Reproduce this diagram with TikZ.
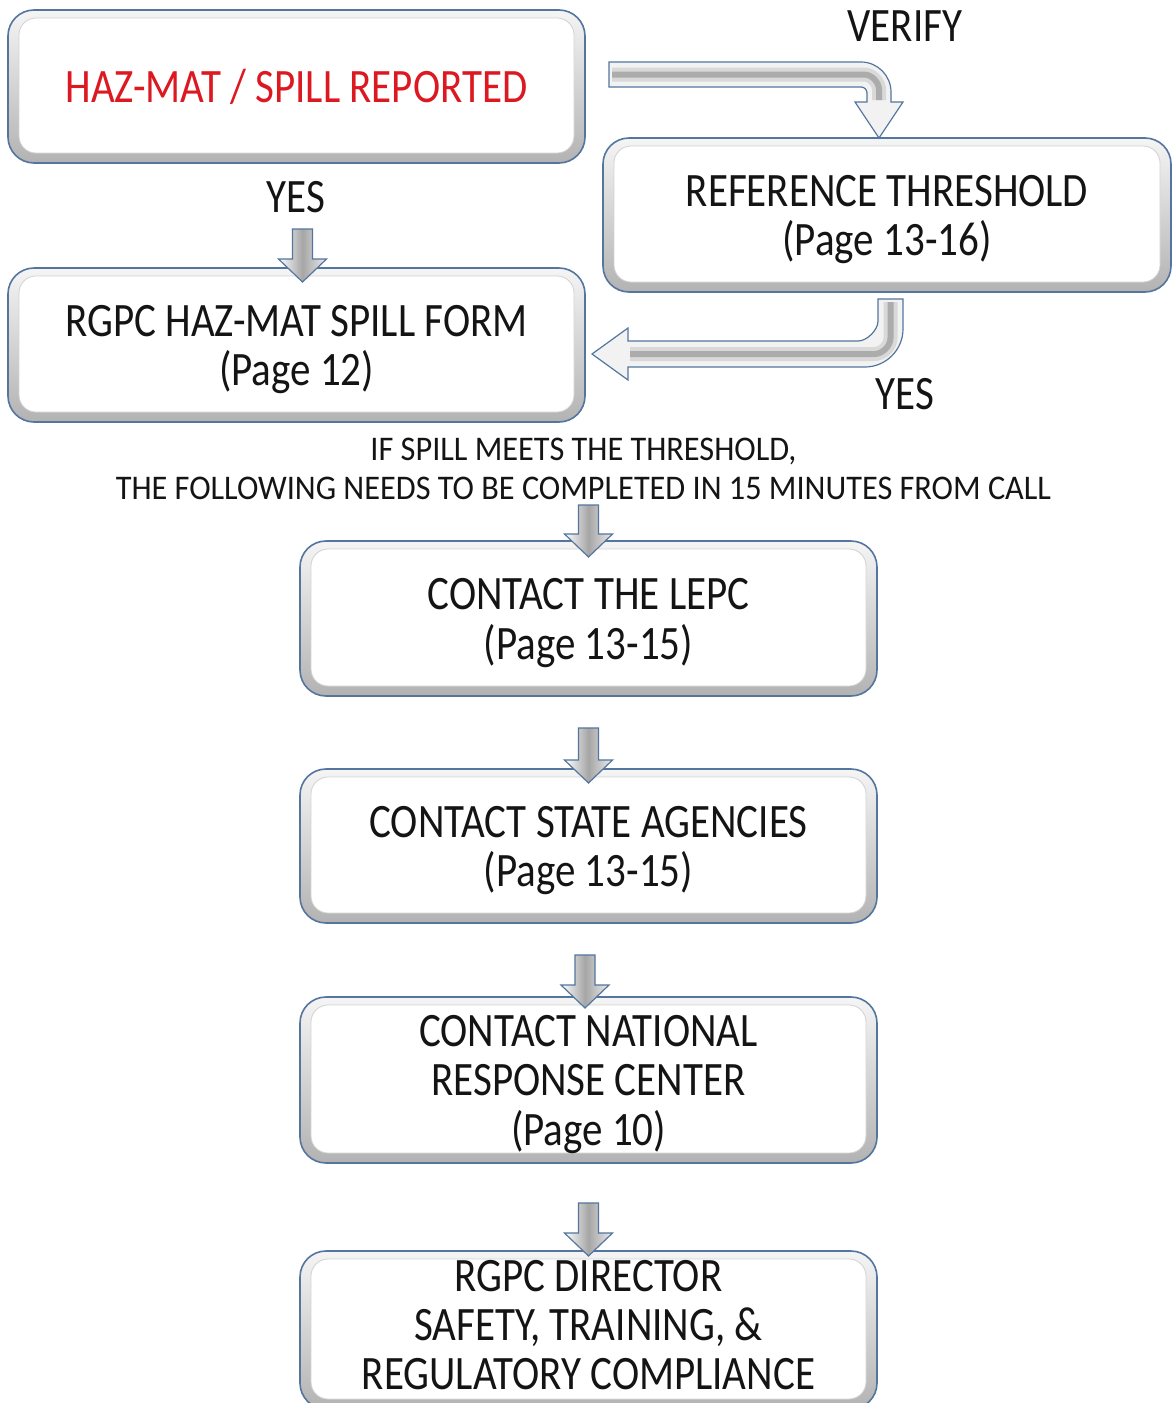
\documentclass[tikz,border=0pt]{standalone}
\usepackage{fontspec}
\setmainfont{Carlito}
\usetikzlibrary{calc}
\definecolor{bordercol}{RGB}{84,118,158}
\definecolor{redtxt}{RGB}{220,24,32}
\definecolor{txt}{RGB}{20,20,20}
\newcommand{\sy}[1]{\scalebox{1}[1.17]{#1}}
\newcommand{\sn}[1]{\scalebox{1}[1.07]{#1}}
\newcommand{\btext}[1]{\scalebox{1}[1.17]{\begin{tabular}[t]{@{}c@{}}#1\end{tabular}}}
\newcommand{\dnarrow}[2]{%
  \draw[dnarr] let \p1=(#1), \p2=(#2) in
    (\x2-10pt,\y1) -- (\x2+10pt,\y1) -- (\x2+10pt,\y2+23pt) -- (\x2+24pt,\y2+23pt)
    -- (\x2,\y2) -- (\x2-24pt,\y2+23pt) -- (\x2-10pt,\y2+23pt) -- cycle;}
\begin{document}
\begin{tikzpicture}[x=1pt,y=-1pt,
  box/.style={draw=bordercol, line width=1.6pt, rounded corners=26pt, inner sep=0pt, outer sep=0pt,
    top color=gray!8, bottom color=gray!60, text=txt, font=\fontsize{41}{42}\selectfont, text height=31pt,
    path picture={\fill[white, draw=gray!35, line width=0.8pt, rounded corners=17pt]
      ([shift={(11pt,10pt)}]path picture bounding box.south west) rectangle
      ([shift={(-11pt,-8pt)}]path picture bounding box.north east);}},
  lbl/.style={font=\fontsize{41}{42}\selectfont, text=txt, inner sep=0pt, anchor=base},
  note/.style={font=\fontsize{32.3}{33}\selectfont, text=txt, inner sep=0pt, anchor=base},
  dnarr/.style={draw=bordercol, line width=1.2pt, left color=white, right color=gray!15, middle color=gray!70},
  bentarr/.style={draw=bordercol, line width=1.2pt, fill=gray!10},
  glossA/.style={draw=gray!30, line width=14pt, line cap=butt},
  glossB/.style={draw=gray!65, line width=6pt, line cap=butt}]
\useasboundingbox (0,0) rectangle (1173,1403);
\clip (0,0) rectangle (1173,1403);
\fill[white] (0,0) rectangle (1173,1403);

% boxes
\node[box, minimum width=577pt, minimum height=153pt, text depth=0pt, text=redtxt] (b1) at (296.5,86.5)
  {\btext{HAZ-MAT / SPILL REPORTED}};
\node[box, minimum width=568pt, minimum height=154pt, text depth=49pt] (b2) at (887,215)
  {\btext{REFERENCE THRESHOLD\\(Page 13-16)}};
\node[box, minimum width=577pt, minimum height=154pt, text depth=49pt] (b3) at (296.5,345)
  {\btext{RGPC HAZ-MAT SPILL FORM\\(Page 12)}};
\node[box, minimum width=577pt, minimum height=155pt, text depth=49pt] (b4) at (588.5,618.5)
  {\btext{CONTACT THE LEPC\\(Page 13-15)}};
\node[box, minimum width=577pt, minimum height=154pt, text depth=49pt] (b5) at (588.5,846)
  {\btext{CONTACT STATE AGENCIES\\(Page 13-15)}};
\node[box, minimum width=577pt, minimum height=166pt, text depth=98pt] (b6) at (588.5,1080)
  {\btext{CONTACT NATIONAL\\RESPONSE CENTER\\(Page 10)}};
\node[box, minimum width=577pt, minimum height=158pt, text depth=108pt] (b7) at (588.5,1330)
  {\btext{RGPC DIRECTOR\\SAFETY, TRAINING, \&\\REGULATORY COMPLIANCE}};

% labels
\node[lbl] (verify) at (905,41) {\sy{VERIFY}};
\node[lbl] (yes1) at (296,212) {\sy{YES}};
\node[lbl] (yes2) at (905,409) {\sy{YES}};
\node[note] (note1) at (583.5,460) {\sn{IF SPILL MEETS THE THRESHOLD,}};
\node[note] (note2) at (583.5,499) {\sn{THE FOLLOWING NEEDS TO BE COMPLETED IN 15 MINUTES FROM CALL}};

% bent arrow: VERIFY
\draw[bentarr] let \p1=([xshift=24pt,yshift=12pt]b1.east), \p2=([xshift=-8pt]b2.north) in
  (\x1,\y1+12.5pt) -- (\x2-18pt,\y1+12.5pt)
  .. controls (\x2-1.5pt,\y1+12.5pt) and (\x2+12pt,\y1-1pt) .. (\x2+12pt,\y1-17.5pt)
  -- (\x2+12pt,\y2+36pt) -- (\x2+24pt,\y2+36pt) -- (\x2,\y2) -- (\x2-24pt,\y2+36pt) -- (\x2-12pt,\y2+36pt)
  -- (\x2-12pt,\y1-18.5pt) .. controls (\x2-12pt,\y1-15.2pt) and (\x2-14.7pt,\y1-12.5pt) .. (\x2-18pt,\y1-12.5pt)
  -- (\x1,\y1-12.5pt) -- cycle;
\foreach \g in {glossA,glossB}{
\draw[\g] let \p1=([xshift=24pt,yshift=12pt]b1.east), \p2=([xshift=-8pt]b2.north) in
  (\x1+3pt,\y1) -- (\x2-15pt,\y1) .. controls (\x2-6.7pt,\y1) and (\x2,\y1-8.3pt) .. (\x2,\y1-15pt)
  -- (\x2,\y2+38pt);}

% bent arrow: YES
\draw[bentarr] let \p1=([xshift=3.5pt,yshift=-7pt]b2.south), \p2=([xshift=7pt,yshift=-9pt]b3.east) in
  (\x1-12.5pt,\y1) -- (\x1+12.5pt,\y1) -- (\x1+12.5pt,\y2+25pt)
  .. controls (\x1+12.5pt,\y2+4.1pt) and (\x1-4.6pt,\y2-13pt) .. (\x1-25.5pt,\y2-13pt)
  -- (\x2+36pt,\y2-13pt) -- (\x2+36pt,\y2-26pt) -- (\x2,\y2) -- (\x2+36pt,\y2+26pt) -- (\x2+36pt,\y2+13pt)
  -- (\x1-32.5pt,\y2+13pt) .. controls (\x1-23.5pt,\y2+13pt) and (\x1-12.5pt,\y2+24pt) .. (\x1-12.5pt,\y2+33pt)
  -- cycle;
\foreach \g in {glossA,glossB}{
\draw[\g] let \p1=([xshift=3.5pt,yshift=-7pt]b2.south), \p2=([xshift=7pt,yshift=-9pt]b3.east) in
  (\x1,\y1-3pt) -- (\x1,\y2+16pt) .. controls (\x1,\y2+7.2pt) and (\x1-8.8pt,\y2) .. (\x1-16pt,\y2)
  -- (\x2+38pt,\y2);}

% straight down arrows
\dnarrow{[yshift=-17pt]yes1.base}{[xshift=6pt,yshift=-14pt]b3.north}
\dnarrow{[yshift=-6pt]note2.base}{[yshift=-16pt]b4.north}
\dnarrow{[yshift=-32pt]b4.south}{[yshift=-14pt]b5.north}
\dnarrow{[yshift=-32pt]b5.south}{[xshift=-3.5pt,yshift=-11pt]b6.north}
\dnarrow{[yshift=-40pt]b6.south}{[yshift=-5pt]b7.north}
\end{tikzpicture}
\end{document}
